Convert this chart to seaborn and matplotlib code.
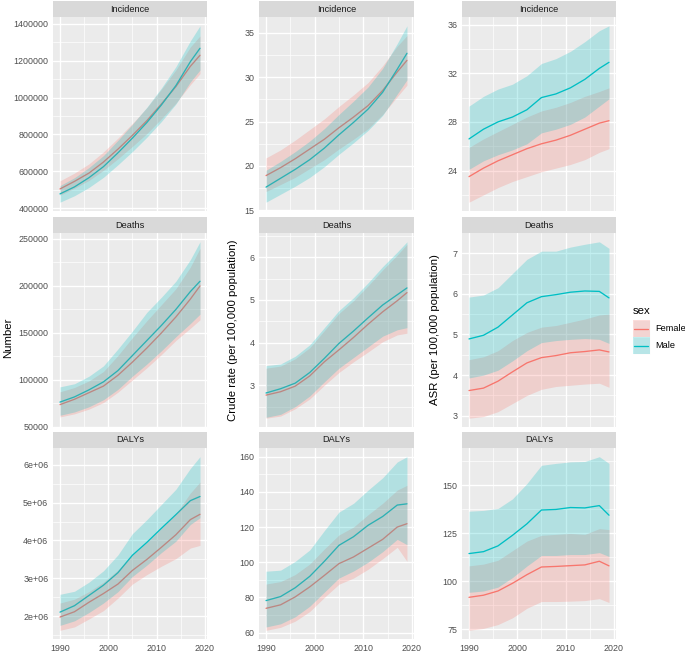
"""
plot.py - GBD-style trend panels (Number / Crude rate / ASR) by sex, 1990-2019.
Lines are point estimates, ribbons are 95% uncertainty intervals.
"""

import numpy as np
import pandas as pd
import matplotlib
matplotlib.use("Agg")
import matplotlib.pyplot as plt
from matplotlib.patches import Rectangle
from matplotlib.lines import Line2D
import seaborn as sns

# ── Data ───────────────────────────────────────────────────────────────────────
YEARS    = [1990, 1993, 1996, 1999, 2002, 2005, 2008, 2011, 2014, 2017, 2019]
SEXES    = ["Female", "Male"]
MEASURES = ["Incidence", "Deaths", "DALYs"]
METRICS  = ["Number", "Crude rate (per 100,000 population)", "ASR (per 100,000 population)"]

# Number - Incidence
NUM_INC_F    = [504000, 545000, 590000, 650000, 720000, 795000, 875000, 965000, 1060000, 1170000, 1230000]
NUM_INC_F_LO = [470000, 508000, 550000, 605000, 668000, 735000, 805000, 885000, 970000, 1070000, 1130000]
NUM_INC_F_HI = [548000, 590000, 640000, 705000, 780000, 860000, 945000, 1045000, 1150000, 1275000, 1335000]
NUM_INC_M    = [477000, 515000, 565000, 625000, 700000, 780000, 865000, 960000, 1065000, 1195000, 1268000]
NUM_INC_M_LO = [432000, 467000, 512000, 567000, 635000, 707000, 785000, 870000, 965000, 1085000, 1150000]
NUM_INC_M_HI = [522000, 565000, 620000, 685000, 768000, 855000, 948000, 1052000, 1168000, 1308000, 1390000]

# Number - Deaths
NUM_DTH_F    = [73800, 79500, 86500, 93500, 105000, 119000, 134000, 150000, 167000, 186000, 200000]
NUM_DTH_F_LO = [60700, 64000, 69000, 76000, 87000, 100000, 113000, 127000, 142000, 155000, 164000]
NUM_DTH_F_HI = [87400, 92000, 99000, 109000, 126000, 145000, 163000, 180000, 197000, 220000, 240000]
NUM_DTH_M    = [76500, 82000, 89500, 98000, 110000, 126000, 142000, 158000, 175000, 194000, 205000]
NUM_DTH_M_LO = [62500, 66000, 71500, 79000, 90000, 104000, 117000, 131000, 146000, 160000, 170000]
NUM_DTH_M_HI = [92700, 96000, 104000, 115000, 133000, 152000, 172000, 188000, 205000, 228000, 247000]

# Number - DALYs
NUM_DALY_F    = [1.98e6, 2.12e6, 2.37e6, 2.60e6, 2.85e6, 3.21e6, 3.50e6, 3.82e6, 4.15e6, 4.55e6, 4.69e6]
NUM_DALY_F_LO = [1.63e6, 1.72e6, 1.93e6, 2.15e6, 2.48e6, 2.85e6, 3.10e6, 3.32e6, 3.52e6, 3.80e6, 3.87e6]
NUM_DALY_F_HI = [2.35e6, 2.45e6, 2.65e6, 2.90e6, 3.22e6, 3.62e6, 3.95e6, 4.32e6, 4.70e6, 5.25e6, 5.54e6]
NUM_DALY_M    = [2.11e6, 2.28e6, 2.55e6, 2.82e6, 3.15e6, 3.61e6, 3.95e6, 4.32e6, 4.68e6, 5.05e6, 5.16e6]
NUM_DALY_M_LO = [1.76e6, 1.88e6, 2.10e6, 2.35e6, 2.65e6, 3.05e6, 3.35e6, 3.68e6, 3.98e6, 4.42e6, 4.60e6]
NUM_DALY_M_HI = [2.58e6, 2.66e6, 2.90e6, 3.20e6, 3.62e6, 4.18e6, 4.55e6, 4.95e6, 5.35e6, 5.90e6, 6.21e6]

# Crude rate - Incidence
CR_INC_F    = [18.9, 19.8, 20.8, 21.9, 23.0, 24.3, 25.5, 26.8, 28.5, 30.6, 31.9]
CR_INC_F_LO = [17.1, 17.9, 18.7, 19.7, 20.7, 21.9, 23.0, 24.2, 25.8, 27.8, 29.1]
CR_INC_F_HI = [20.9, 21.8, 22.9, 24.1, 25.3, 26.7, 28.0, 29.4, 31.3, 33.5, 34.7]
CR_INC_M    = [17.6, 18.6, 19.6, 20.7, 22.0, 23.5, 24.9, 26.4, 28.3, 30.9, 32.7]
CR_INC_M_LO = [15.9, 16.8, 17.7, 18.7, 19.9, 21.3, 22.6, 24.0, 25.7, 28.1, 29.7]
CR_INC_M_HI = [19.5, 20.5, 21.6, 22.8, 24.2, 25.8, 27.3, 28.9, 31.0, 33.8, 35.8]

# Crude rate - Deaths
CR_DTH_F    = [2.77, 2.85, 2.98, 3.22, 3.55, 3.83, 4.12, 4.43, 4.72, 4.98, 5.17]
CR_DTH_F_LO = [2.23, 2.28, 2.45, 2.68, 3.00, 3.30, 3.55, 3.78, 4.02, 4.18, 4.22]
CR_DTH_F_HI = [3.40, 3.45, 3.62, 3.88, 4.28, 4.68, 4.98, 5.33, 5.70, 6.05, 6.30]
CR_DTH_M    = [2.82, 2.92, 3.05, 3.30, 3.63, 3.98, 4.27, 4.58, 4.88, 5.12, 5.28]
CR_DTH_M_LO = [2.25, 2.32, 2.50, 2.75, 3.08, 3.40, 3.65, 3.90, 4.15, 4.30, 4.35]
CR_DTH_M_HI = [3.46, 3.50, 3.68, 3.95, 4.35, 4.75, 5.05, 5.40, 5.78, 6.12, 6.36]

# Crude rate - DALYs
CR_DALY_F    = [73.8, 75.8, 80.3, 86.0, 92.5, 99.2, 103.0, 108.0, 113.0, 120.0, 121.9]
CR_DALY_F_LO = [61.3, 63.0, 66.5, 72.0, 80.0, 87.5, 91.0, 96.0, 102.0, 108.5, 100.5]
CR_DALY_F_HI = [87.6, 89.0, 93.0, 99.0, 107.5, 115.5, 120.0, 127.0, 133.5, 141.0, 143.7]
CR_DALY_M    = [78.2, 80.5, 85.5, 92.0, 100.5, 109.6, 114.5, 121.0, 126.0, 132.5, 133.2]
CR_DALY_M_LO = [63.2, 65.0, 69.0, 75.0, 83.0, 91.0, 95.0, 100.0, 106.0, 113.0, 110.0]
CR_DALY_M_HI = [94.9, 95.5, 100.5, 107.0, 118.0, 128.5, 133.5, 141.0, 148.0, 157.0, 160.0]

# ASR - Incidence
ASR_INC_F    = [23.5, 24.2, 24.8, 25.3, 25.8, 26.2, 26.5, 26.9, 27.4, 27.9, 28.1]
ASR_INC_F_LO = [21.4, 22.0, 22.6, 23.1, 23.5, 23.9, 24.2, 24.5, 24.9, 25.5, 25.8]
ASR_INC_F_HI = [25.9, 26.6, 27.2, 27.8, 28.4, 28.9, 29.2, 29.6, 30.1, 30.5, 30.8]
ASR_INC_M    = [26.6, 27.4, 28.0, 28.4, 29.0, 30.0, 30.3, 30.8, 31.5, 32.4, 32.9]
ASR_INC_M_LO = [24.1, 24.8, 25.3, 25.7, 26.2, 27.1, 27.4, 27.8, 28.4, 29.3, 29.9]
ASR_INC_M_HI = [29.3, 30.1, 30.7, 31.1, 31.8, 32.8, 33.2, 33.8, 34.6, 35.5, 35.9]

# ASR - Deaths
ASR_DTH_F    = [3.62, 3.68, 3.85, 4.08, 4.30, 4.43, 4.48, 4.55, 4.58, 4.62, 4.57]
ASR_DTH_F_LO = [2.94, 2.98, 3.10, 3.30, 3.50, 3.65, 3.72, 3.75, 3.78, 3.80, 3.70]
ASR_DTH_F_HI = [4.38, 4.45, 4.60, 4.85, 5.05, 5.18, 5.22, 5.30, 5.38, 5.48, 5.50]
ASR_DTH_M    = [4.89, 4.98, 5.18, 5.48, 5.78, 5.93, 5.98, 6.04, 6.07, 6.06, 5.90]
ASR_DTH_M_LO = [3.93, 4.00, 4.12, 4.35, 4.60, 4.80, 4.85, 4.88, 4.90, 4.88, 4.78]
ASR_DTH_M_HI = [5.92, 5.97, 6.15, 6.50, 6.85, 7.05, 7.05, 7.15, 7.22, 7.28, 7.12]

# ASR - DALYs
ASR_DALY_F    = [91.7, 92.8, 95.0, 99.0, 103.5, 107.5, 107.8, 108.2, 108.6, 110.5, 108.1]
ASR_DALY_F_LO = [74.5, 75.5, 77.5, 81.0, 86.0, 89.5, 89.5, 89.7, 90.0, 91.0, 89.0]
ASR_DALY_F_HI = [108.1, 109.0, 111.0, 116.0, 121.0, 124.0, 124.5, 125.0, 124.5, 127.5, 127.0]
ASR_DALY_M    = [114.5, 115.5, 118.5, 124.0, 130.0, 137.2, 137.5, 138.5, 138.3, 139.5, 134.5]
ASR_DALY_M_LO = [94.3, 95.0, 97.0, 102.0, 108.0, 113.5, 113.5, 114.0, 114.0, 115.0, 113.0]
ASR_DALY_M_HI = [136.6, 137.0, 138.0, 143.0, 151.0, 160.5, 161.5, 162.3, 162.5, 165.0, 161.5]

# y-axis breaks per (metric, measure)
Y_BREAKS = {
    (0, 0): [400000, 600000, 800000, 1000000, 1200000, 1400000],
    (0, 1): [50000, 100000, 150000, 200000, 250000],
    (0, 2): [2e6, 3e6, 4e6, 5e6, 6e6],
    (1, 0): [15, 20, 25, 30, 35],
    (1, 1): [3, 4, 5, 6],
    (1, 2): [60, 80, 100, 120, 140, 160],
    (2, 0): [24, 28, 32, 36],
    (2, 1): [3, 4, 5, 6, 7],
    (2, 2): [75, 100, 125, 150],
}
X_BREAKS = [1990, 2000, 2010, 2020]

SERIES = {
    (0, 0): {"Female": (NUM_INC_F, NUM_INC_F_LO, NUM_INC_F_HI), "Male": (NUM_INC_M, NUM_INC_M_LO, NUM_INC_M_HI)},
    (0, 1): {"Female": (NUM_DTH_F, NUM_DTH_F_LO, NUM_DTH_F_HI), "Male": (NUM_DTH_M, NUM_DTH_M_LO, NUM_DTH_M_HI)},
    (0, 2): {"Female": (NUM_DALY_F, NUM_DALY_F_LO, NUM_DALY_F_HI), "Male": (NUM_DALY_M, NUM_DALY_M_LO, NUM_DALY_M_HI)},
    (1, 0): {"Female": (CR_INC_F, CR_INC_F_LO, CR_INC_F_HI), "Male": (CR_INC_M, CR_INC_M_LO, CR_INC_M_HI)},
    (1, 1): {"Female": (CR_DTH_F, CR_DTH_F_LO, CR_DTH_F_HI), "Male": (CR_DTH_M, CR_DTH_M_LO, CR_DTH_M_HI)},
    (1, 2): {"Female": (CR_DALY_F, CR_DALY_F_LO, CR_DALY_F_HI), "Male": (CR_DALY_M, CR_DALY_M_LO, CR_DALY_M_HI)},
    (2, 0): {"Female": (ASR_INC_F, ASR_INC_F_LO, ASR_INC_F_HI), "Male": (ASR_INC_M, ASR_INC_M_LO, ASR_INC_M_HI)},
    (2, 1): {"Female": (ASR_DTH_F, ASR_DTH_F_LO, ASR_DTH_F_HI), "Male": (ASR_DTH_M, ASR_DTH_M_LO, ASR_DTH_M_HI)},
    (2, 2): {"Female": (ASR_DALY_F, ASR_DALY_F_LO, ASR_DALY_F_HI), "Male": (ASR_DALY_M, ASR_DALY_M_LO, ASR_DALY_M_HI)},
}

# ── Style ──────────────────────────────────────────────────────────────────────
PALETTE   = {"Female": "#F8766D", "Male": "#00BFC4"}
RIBBON_A  = 0.24
FIG_W, FIG_H = 685, 654           # pixels
COL_X  = [(53, 207), (259, 414), (462, 616)]   # panel left/right, px
ROW_Y  = [(17, 211), (233, 427), (448, 639)]   # panel top/bottom, px
STRIP_H = 16
YLAB_X = [8, 233, 435]
YLAB_Y = [338, 330, 330]

sns.set_style("darkgrid", {
    "axes.facecolor": "#EBEBEB",
    "grid.color": "white",
    "axes.edgecolor": "none",
})
plt.rcParams["font.family"] = ["Liberation Sans", "DejaVu Sans"]
plt.rcParams["axes.linewidth"] = 0


def build_frame():
    rows = []
    for (c, r), by_sex in SERIES.items():
        for sex in SEXES:
            val, lo, hi = by_sex[sex]
            for y, v, l, h in zip(YEARS, val, lo, hi):
                rows.append({"metric": METRICS[c], "measure": MEASURES[r], "sex": sex,
                             "year": y, "val": v, "lo": l, "hi": h})
    return pd.DataFrame(rows)


def fmt_tick(v, sci):
    if sci:
        return f"{int(round(v / 1e6))}e+06"
    if float(v).is_integer():
        return str(int(v))
    return str(v)


def minor_breaks(breaks, lim):
    step = breaks[1] - breaks[0]
    ext = [breaks[0] - step] + list(breaks) + [breaks[-1] + step]
    mids = [(a + b) / 2 for a, b in zip(ext[:-1], ext[1:])]
    return [m for m in mids if lim[0] <= m <= lim[1]]


def main():
    df = build_frame()
    fig = plt.figure(figsize=(FIG_W / 100, FIG_H / 100), dpi=100)

    for c, metric in enumerate(METRICS):
        for r, measure in enumerate(MEASURES):
            x0, x1 = COL_X[c]
            t0, t1 = ROW_Y[r]
            ax = fig.add_axes([x0 / FIG_W, 1 - t1 / FIG_H, (x1 - x0) / FIG_W, (t1 - t0) / FIG_H])
            sub = df[(df.metric == metric) & (df.measure == measure)]

            sns.lineplot(data=sub, x="year", y="val", hue="sex", palette=PALETTE,
                         hue_order=SEXES, linewidth=0.95, legend=False, ax=ax, zorder=2)
            for sex in SEXES:
                s = sub[sub.sex == sex]
                ax.fill_between(s["year"], s["lo"], s["hi"], color=PALETTE[sex],
                                alpha=RIBBON_A, linewidth=0, zorder=3)

            # ggplot-like 5% expansion
            ymin, ymax = sub["lo"].min(), sub["hi"].max()
            pad = (ymax - ymin) * 0.05
            ylim = (ymin - pad, ymax + pad)
            ax.set_ylim(*ylim)
            xpad = (YEARS[-1] - YEARS[0]) * 0.05
            ax.set_xlim(YEARS[0] - xpad, YEARS[-1] + xpad)

            yb = Y_BREAKS[(c, r)]
            ax.set_yticks(yb, [fmt_tick(v, c == 0 and r == 2) for v in yb])
            ax.set_yticks(minor_breaks(yb, ylim), minor=True)
            ax.set_xticks(X_BREAKS, [str(v) for v in X_BREAKS])
            ax.set_xticks([1995, 2005, 2015], minor=True)

            ax.grid(which="major", color="white", linewidth=1.0)
            ax.grid(which="minor", color="white", linewidth=0.5)
            ax.set_axisbelow(True)
            ax.tick_params(axis="both", which="major", length=2.2, width=0.6, color="#333333",
                           labelsize=6.4, labelcolor="#4D4D4D", pad=1.2)
            ax.tick_params(axis="both", which="minor", length=0)
            if r < 2:
                ax.tick_params(axis="x", which="major", bottom=False, labelbottom=False)
            ax.set_xlabel("")
            ax.set_ylabel("")
            for sp in ax.spines.values():
                sp.set_visible(False)

            # facet strip
            sh = STRIP_H / (t1 - t0)
            ax.add_patch(Rectangle((0, 1), 1, sh, transform=ax.transAxes, facecolor="#D9D9D9",
                                   edgecolor="none", clip_on=False, zorder=5))
            ax.text(0.5, 1 + sh / 2, measure, transform=ax.transAxes, ha="center", va="center",
                    fontsize=6.6, color="#1A1A1A", zorder=6)

        fig.text(YLAB_X[c] / FIG_W, 1 - YLAB_Y[c] / FIG_H, metric, rotation=90,
                 ha="center", va="center", fontsize=8.2, color="black")

    # legend drawn in pixel space
    lax = fig.add_axes([0, 0, 1, 1])
    lax.set_xlim(0, FIG_W)
    lax.set_ylim(FIG_H, 0)
    lax.axis("off")
    lax.text(633, 311, "sex", ha="left", va="center", fontsize=8.2, color="black")
    for i, sex in enumerate(SEXES):
        ky = 320 + i * 17
        lax.add_patch(Rectangle((633, ky), 17, 17, facecolor="#F2F2F2", edgecolor="white", linewidth=0.6))
        lax.add_patch(Rectangle((633, ky), 17, 17, facecolor=PALETTE[sex], alpha=RIBBON_A, edgecolor="none"))
        lax.add_line(Line2D([634.5, 648.5], [ky + 8.5, ky + 8.5], color=PALETTE[sex], linewidth=0.95))
        lax.text(655, ky + 8.5, sex, ha="left", va="center", fontsize=6.6, color="black")

    fig.savefig("out.png", dpi=100, facecolor="white")
    plt.close(fig)


if __name__ == "__main__":
    main()
